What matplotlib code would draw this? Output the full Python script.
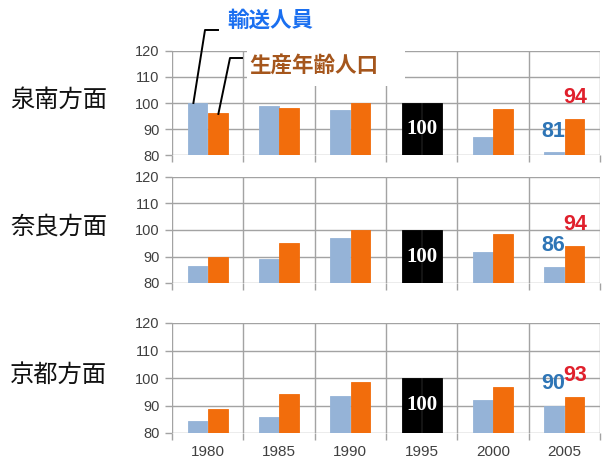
import matplotlib
matplotlib.use("Agg")
import matplotlib.pyplot as plt
from matplotlib.lines import Line2D
from matplotlib.patches import Rectangle
import numpy as np

# 指数 (1995年 = 100)
years = ["1980", "1985", "1990", "1995", "2000", "2005"]
regions = ["泉南方面", "奈良方面", "京都方面"]

senan_riders = [100, 98.8, 97.5, 100, 86.8, 81]
senan_workage = [96.3, 98.1, 100, 100, 97.8, 94]
nara_riders = [86.3, 88.9, 96.9, 100, 91.8, 86]
nara_workage = [90, 95, 100, 100, 98.4, 94]
kyoto_riders = [84.5, 85.7, 93.5, 100, 92, 90]
kyoto_workage = [88.8, 94.2, 98.7, 100, 96.7, 93]

riders = [senan_riders, nara_riders, kyoto_riders]
workage = [senan_workage, nara_workage, kyoto_workage]

y_ticks = [80, 90, 100, 110, 120]
base_year = "1995"

BLUE = "#95b3d7"
ORANGE = "#f26d0c"
GRID = "#a3a3a3"
CJK = ["Noto Sans CJK JP", "DejaVu Sans"]

W, H = 606, 467
fig = plt.figure(figsize=(W / 100, H / 100), dpi=100)


def px(x, y):
    # ピクセル位置 (左上原点) を figure 座標へ
    return x / W, 1 - y / H


# 各パネルの位置 (ピクセル): 上端, 下端
panel_px = [(51, 155), (177, 283), (323, 433)]
left_px, right_px = 172, 600

x = np.arange(len(years))
bw = 0.275
off = 0.142
axes = []
for i, (top, bottom) in enumerate(panel_px):
    ax = fig.add_axes([left_px / W, 1 - bottom / H,
                       (right_px - left_px) / W, (bottom - top) / H])
    axes.append(ax)
    c_blue = ["black" if y == base_year else BLUE for y in years]
    c_orng = ["black" if y == base_year else ORANGE for y in years]
    ax.bar(x - off, np.array(riders[i]) - 80, bw, bottom=80, color=c_blue,
           edgecolor=c_blue, linewidth=0.6, zorder=3)
    ax.bar(x + off, np.array(workage[i]) - 80, bw, bottom=80, color=c_orng,
           edgecolor=c_orng, linewidth=0.6, zorder=3)

    ax.set_xlim(-0.5, len(years) - 0.5)
    ax.set_ylim(80, 120)
    ax.set_yticks(y_ticks)
    ax.set_yticklabels([str(t) for t in y_ticks], fontsize=10.5,
                       color="#404040", family="Liberation Sans")
    ax.set_xticks(x)
    ax.set_xticks(np.arange(-0.5, len(years), 1), minor=True)
    ax.tick_params(axis="x", which="major", length=0, pad=9)
    ax.tick_params(axis="x", which="minor", length=5, color=GRID, width=1)
    ax.tick_params(axis="y", length=5, color=GRID, width=1, pad=4)
    ax.grid(True, axis="y", which="major", color=GRID, linewidth=1, zorder=0)
    ax.grid(True, axis="x", which="minor", color=GRID, linewidth=1, zorder=0)
    for s in ax.spines.values():
        s.set_visible(False)
    if i == 2:
        ax.set_xticklabels(years, fontsize=11, color="#404040",
                           family="Liberation Sans")
    else:
        ax.set_xticklabels([])

    # 基準年の "100"
    k = years.index(base_year)
    ax.text(x[k], 90, "100", ha="center", va="center", color="white",
            fontsize=15, fontweight="bold", family="Liberation Serif", zorder=4)

    # 2005年の値ラベル
    j = len(years) - 1
    ax.text(x[j] - 0.15, riders[i][j] + 8, f"{riders[i][j]:.0f}", ha="center",
            va="center", color="#2e75b6", fontsize=15.5, fontweight="bold",
            family="Liberation Sans", zorder=5)
    ax.text(x[j] + 0.15, workage[i][j] + 8, f"{workage[i][j]:.0f}", ha="center",
            va="center", color="#e0202c", fontsize=15.5, fontweight="bold",
            family="Liberation Sans", zorder=5)

# 地域名
for (top, bottom), name in zip(panel_px, regions):
    fig.text(*px(10, (top + bottom) / 2 - 3), name, ha="left", va="center",
             fontsize=17.5, family=CJK, color="#111111")

# 凡例 (引き出し線付き)
ax0 = axes[0]
ax0.add_patch(Rectangle(px(247, 86), (405 - 247) / W, (86 - 40) / H,
                        transform=fig.transFigure, facecolor="white",
                        edgecolor="none", clip_on=False, zorder=6))


def data_to_fig(ax, xd, yd):
    return fig.transFigure.inverted().transform(ax.transData.transform((xd, yd)))


p_end1 = data_to_fig(ax0, x[0] - 0.2, senan_riders[0])
p_end2 = data_to_fig(ax0, x[0] + 0.15, senan_workage[0] - 0.5)
l1 = [px(218, 30), px(205, 30), tuple(p_end1)]
l2 = [px(242, 58), px(230, 58), tuple(p_end2)]
for pts in (l1, l2):
    xs, ys = zip(*pts)
    fig.add_artist(Line2D(xs, ys, color="black", linewidth=1.4, zorder=7))

fig.text(*px(227, 20), "輸送人員", ha="left", va="center", fontsize=15.5,
         fontweight="bold", family=CJK, color="#1a6ff0", zorder=8)
fig.text(*px(249, 65), "生産年齢人口", ha="left", va="center", fontsize=15.5,
         fontweight="bold", family=CJK, color="#a5561c", zorder=8)

fig.savefig("out.png", dpi=100)
